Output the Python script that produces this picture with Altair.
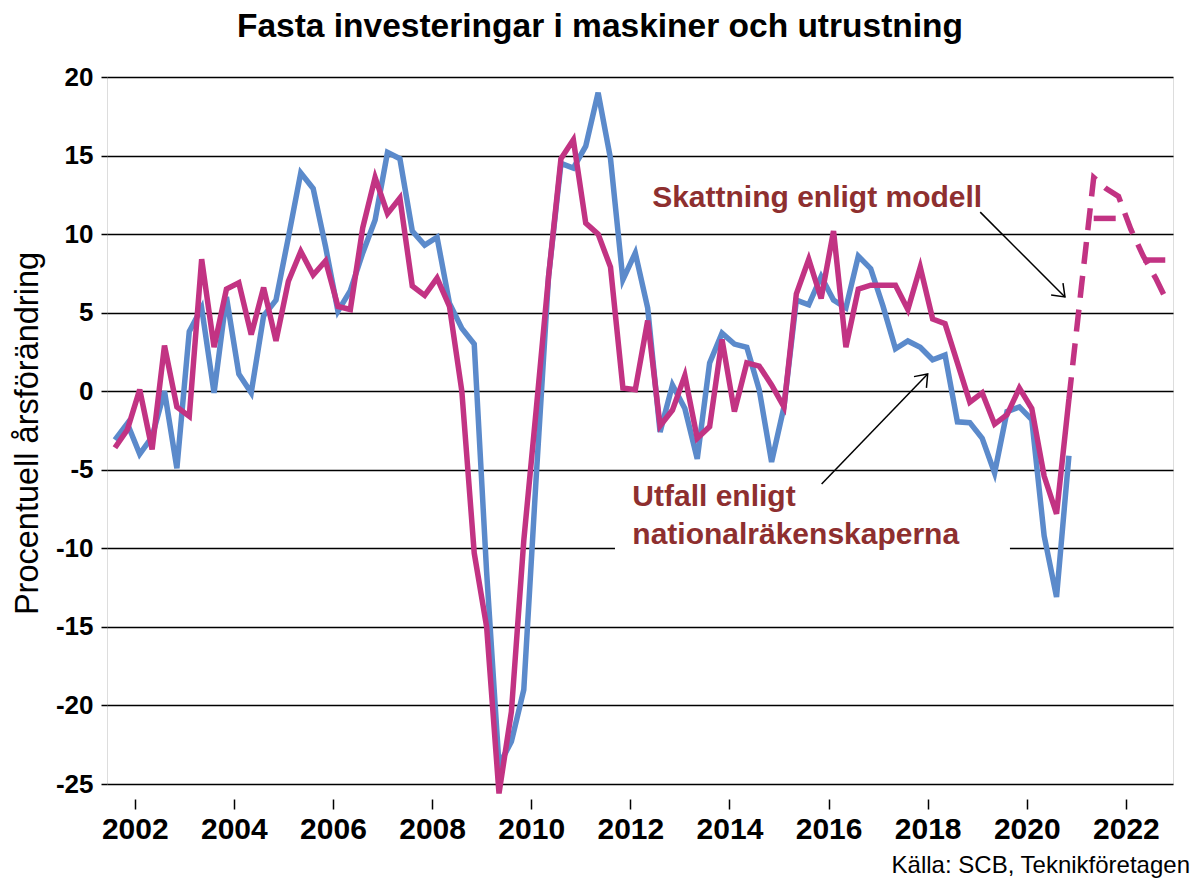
import altair as alt
import pandas as pd

FONT = "Liberation Sans"
BLUE = "#5B8ACB"
MAGENTA = "#C23383"
ANNOT = "#8E2F2F"

# Quarterly series, first quarter 2001Q3 (values in % yearly change)
utfall = [-3.1, -2.05, -4.0, -2.9, 0.0, -4.9, 3.8, 5.3, -0.1, 6.0, 1.1, -0.1,
          4.8, 5.8, 9.8, 13.9, 12.9, 9.2, 5.1, 6.4, 8.8, 10.9, 15.2, 14.8,
          10.2, 9.3, 9.8, 5.6, 4.0, 3.0, -11.5, -23.8, -22.3, -19.0, -5.5, 7.3,
          14.5, 14.2, 15.6, 19.0, 14.8, 7.1, 8.8, 5.3, -2.6, 0.4, -1.1, -4.3,
          1.8, 3.7, 3.0, 2.8, 0.1, -4.5, -1.0, 5.8, 5.5, 7.3, 5.8, 5.3,
          8.6, 7.8, 5.4, 2.7, 3.2, 2.8, 2.0, 2.3, -1.95, -2.0, -3.0, -5.2,
          -1.3, -1.0, -1.8, -9.2, -13.1, -4.1]
modell = [-3.6, -2.45, 0.1, -3.7, 2.9, -1.0, -1.6, 8.4, 2.8, 6.5, 6.9, 3.6,
          6.6, 3.2, 7.0, 8.9, 7.4, 8.3, 5.4, 5.2, 10.4, 13.6, 11.3, 12.3,
          6.7, 6.1, 7.2, 5.4, 0.0, -10.3, -15.0, -25.6, -20.4, -9.5, -1.2, 7.3,
          14.8, 16.0, 10.7, 10.0, 7.9, 0.2, 0.1, 4.5, -2.2, -1.2, 1.0, -3.0,
          -2.25, 3.3, -1.3, 1.8, 1.6, 0.4, -1.0, 6.2, 8.4, 5.9, 10.2, 2.8,
          6.5, 6.75, 6.75, 6.75, 5.2, 7.9, 4.6, 4.3, 1.8, -0.7, -0.1, -2.1,
          -1.5, 0.2, -1.1, -5.4, -7.8, -0.5]
# Model forecast, 2020Q4 .. 2022Q4
prognos = [-0.5, 6.6, 13.6, 12.9, 12.4, 10.3, 8.6, 7.2, 5.6]
# Annual levels drawn flat (2021Q2-Q4 and 2022Q2-Q4)
arsniva_2021 = [11.0, 11.0, 11.0]
arsniva_2022 = [8.35, 8.35, 8.35]

year_ticks = [2002, 2004, 2006, 2008, 2010, 2012, 2014, 2016, 2018, 2020, 2022]
y_ticks = [-25, -20, -15, -10, -5, 0, 5, 10, 15, 20]


def quarters(y, q, n):
    out = []
    for _ in range(n):
        out.append((y, q))
        q += 1
        if q > 4:
            q, y = 1, y + 1
    return out


def tpos(y, q):
    return y + (q - 1) / 4 + 0.1


main_q = quarters(2001, 3, len(utfall))
df_main = pd.DataFrame({
    "t": [tpos(y, q) for y, q in main_q],
    "utfall": utfall,
    "modell": modell,
})
prog_q = quarters(2020, 4, len(prognos))
df_prog = pd.DataFrame({"t": [tpos(y, q) for y, q in prog_q], "v": prognos})
ann_q1 = quarters(2021, 2, 3)
ann_q2 = quarters(2022, 2, 3)
df_ann = pd.DataFrame({
    "t": [tpos(y, q) for y, q in ann_q1] + [tpos(y, q) for y, q in ann_q2],
    "v": arsniva_2021 + arsniva_2022,
    "g": ["2021"] * 3 + ["2022"] * 3,
})

xscale = alt.Scale(domain=[2001.44, 2022.95], nice=False, zero=False)
yscale = alt.Scale(domain=[-25, 20], nice=False, zero=False)

x_axis = alt.Axis(values=year_ticks, format="d", title=None, grid=False,
                  domain=False, offset=15, tickSize=10, tickWidth=1.5,
                  tickColor="black", labelFontSize=30, labelFontWeight="bold",
                  labelFont=FONT, labelColor="black", labelPadding=5)
y_axis = alt.Axis(values=y_ticks, title="Procentuell årsförändring",
                  labelExpr="'' + datum.value", grid=True, gridColor="black",
                  gridWidth=1.5, gridOpacity=1, domain=False, tickSize=6,
                  tickColor="black", tickWidth=1.5, labelFontSize=26,
                  labelFontWeight="bold", labelFont=FONT, labelColor="black",
                  labelPadding=8, titleFont=FONT, titleFontSize=32.5,
                  titleFontWeight="normal", titleColor="black",
                  titleX=-80, titleY=356, titleAngle=-90,
                  titleAlign="center", titleBaseline="middle")

X = alt.X("t:Q", scale=xscale, axis=x_axis)
Y = alt.Y("v:Q", scale=yscale, axis=y_axis)

# white mask behind the two-line annotation (gridline gap)
df_mask = pd.DataFrame({"t": [2011.69], "t2": [2019.66], "v": [-9.3], "v2": [-10.7]})
mask = alt.Chart(df_mask).mark_rect(color="white").encode(
    x=alt.X("t:Q", scale=xscale, axis=x_axis), x2="t2:Q",
    y=alt.Y("v:Q", scale=yscale, axis=y_axis), y2="v2:Q")

blue = alt.Chart(df_main).mark_line(color=BLUE, strokeWidth=5.5).encode(
    x=X, y=alt.Y("utfall:Q", scale=yscale, axis=y_axis))
mag = alt.Chart(df_main).mark_line(color=MAGENTA, strokeWidth=5.5).encode(
    x=X, y=alt.Y("modell:Q", scale=yscale, axis=y_axis))
prog = alt.Chart(df_prog).mark_line(color=MAGENTA, strokeWidth=5.5,
                                    strokeDash=[22, 12]).encode(x=X, y=Y)
ann = alt.Chart(df_ann).mark_line(color=MAGENTA, strokeWidth=5.5,
                                  strokeDash=[22, 12]).encode(x=X, y=Y, detail="g:N")

# arrows
df_arrow = pd.DataFrame({
    "t": [2019.06, 2015.86],
    "v": [11.4, -5.9],
    "t2": [2020.77, 2018.0],
    "v2": [6.0, 1.1],
    "ang": [135, 42],
})
arrow_line = alt.Chart(df_arrow).mark_rule(color="black", strokeWidth=1.5).encode(
    x=X, y=Y, x2="t2:Q", y2="v2:Q")
arrow_head = alt.Chart(df_arrow).mark_point(
    shape="M-0.75,1L0,0L0.75,1", filled=False, color="black", strokeWidth=1.5,
    size=500, opacity=1).encode(
    x=alt.X("t2:Q", scale=xscale, axis=x_axis),
    y=alt.Y("v2:Q", scale=yscale, axis=y_axis),
    angle=alt.Angle("ang:Q", scale=None))

df_text = pd.DataFrame({
    "t": [2012.44, 2012.04, 2012.04],
    "v": [12.3, -6.75, -9.15],
    "label": ["Skattning enligt modell", "Utfall enligt", "nationalräkenskaperna"],
})
texts = alt.Chart(df_text).mark_text(
    align="left", baseline="middle", font=FONT, fontSize=30,
    fontWeight="bold", color=ANNOT).encode(x=X, y=Y, text="label:N")

source = alt.Chart(pd.DataFrame({"s": ["Källa: SCB, Teknikföretagen"]})).mark_text(
    align="right", baseline="alphabetic", font=FONT, fontSize=24, color="black"
).encode(x=alt.value(1083), y=alt.value(796), text="s:N")

chart = alt.layer(mask, blue, mag, prog, ann, arrow_line, arrow_head, texts, source).properties(
    width=1066, height=707,
    autosize=alt.AutoSizeParams(type="none"),
    padding={"left": 99, "top": 69, "right": 19, "bottom": 96},
    title=alt.TitleParams("Fasta investeringar i maskiner och utrustning",
                          font=FONT, fontSize=33.5, fontWeight="bold",
                          color="black", anchor="middle", dx=-40, offset=20),
).configure_view(stroke=None).configure(background="white")

chart.save("out.html", embed_options={"renderer": "svg", "actions": False})
